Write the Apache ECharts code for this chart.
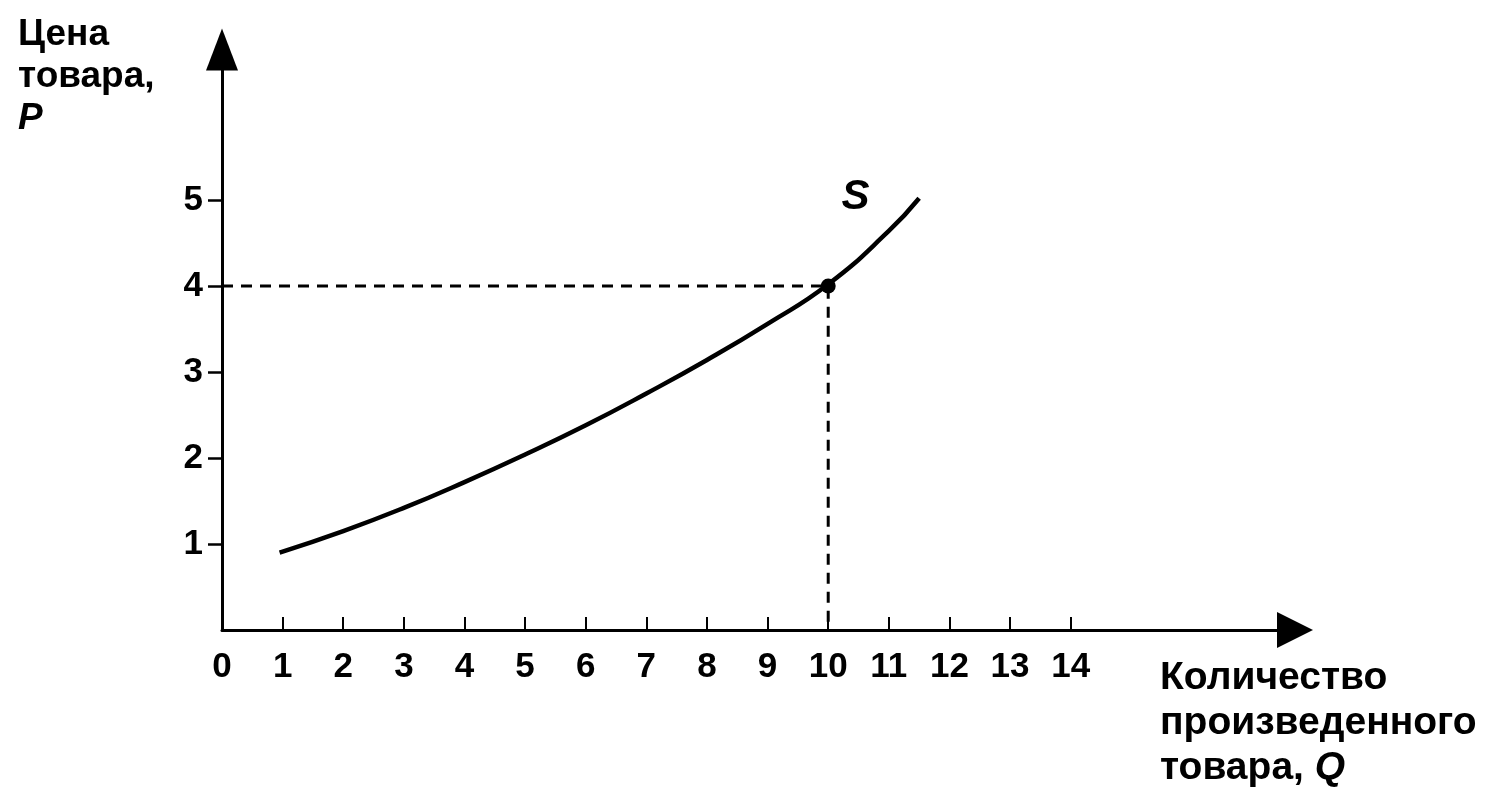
<!DOCTYPE html>
<html>
<head>
<meta charset="utf-8">
<script src="https://cdn.jsdelivr.net/npm/echarts@6/dist/echarts.min.js"></script>
<style>
  html, body { margin: 0; padding: 0; background: #fff; }
  #chart { width: 1501px; height: 808px; }
</style>
</head>
<body>
<div id="chart"></div>
<script>
// Supply curve S: price P for each quantity Q
const supplyQ = [0.95, 2, 3, 4, 5, 6, 7, 8, 9, 10, 11, 11.5];
const supplyP = [0.9, 1.15, 1.42, 1.72, 2.04, 2.38, 2.75, 3.14, 3.56, 4.02, 4.64, 5.02];

// Marked point on the curve and its guide lines to the axes
const markedQ = 10;
const markedP = 4;

// Tick values
const qTicks = [0, 1, 2, 3, 4, 5, 6, 7, 8, 9, 10, 11, 12, 13, 14];
const pTicks = [1, 2, 3, 4, 5];

// Where the curve's name sits
const curveName = 'S';
const curveNameAt = [10.45, 5.03];

const qMax = 17.7;
const pMax = 6.75;

const font = '"Liberation Sans", Arial, sans-serif';

const chart = echarts.init(document.getElementById('chart'));

chart.setOption({
  animation: false,
  backgroundColor: '#ffffff',
  grid: { left: 222, right: 206, top: 49.5, bottom: 178 },
  xAxis: {
    type: 'value',
    min: 0,
    max: qMax,
    interval: 1,
    splitLine: { show: false },
    axisLine: {
      lineStyle: { color: '#000', width: 3 },
      symbol: ['none', 'triangle'],
      symbolSize: [36, 36]
    },
    axisTick: {
      inside: true,
      length: 13,
      lineStyle: { color: '#000', width: 2 },
      customValues: qTicks
    },
    axisLabel: {
      margin: 20,
      color: '#000',
      fontFamily: font,
      fontWeight: 'bold',
      fontSize: 35,
      customValues: qTicks
    }
  },
  yAxis: {
    type: 'value',
    min: 0,
    max: pMax,
    interval: 1,
    splitLine: { show: false },
    axisLine: {
      lineStyle: { color: '#000', width: 3 },
      symbol: ['none', 'triangle'],
      symbolSize: [32, 42]
    },
    axisTick: {
      inside: false,
      length: 14,
      lineStyle: { color: '#000', width: 2.5 },
      customValues: pTicks
    },
    axisLabel: {
      margin: 19,
      color: '#000',
      fontFamily: font,
      fontWeight: 'bold',
      fontSize: 35,
      customValues: pTicks
    }
  },
  series: [
    {
      type: 'line',
      data: [[0, markedP], [markedQ, markedP], [markedQ, 0]],
      symbol: 'none',
      silent: true,
      lineStyle: { color: '#000', width: 3, type: [11, 8] }
    },
    {
      type: 'line',
      data: supplyQ.map((q, i) => [q, supplyP[i]]),
      smooth: 0.5,
      symbol: 'none',
      lineStyle: { color: '#000', width: 4.5 }
    },
    {
      type: 'scatter',
      data: [[markedQ, markedP]],
      symbolSize: 15,
      itemStyle: { color: '#000', opacity: 1 }
    },
    {
      type: 'scatter',
      data: [curveNameAt],
      symbolSize: 0,
      itemStyle: { color: '#000', opacity: 1 },
      label: {
        show: true,
        position: 'inside',
        formatter: curveName,
        color: '#000',
        opacity: 1,
        fontFamily: font,
        fontStyle: 'italic',
        fontWeight: 'bold',
        fontSize: 42
      }
    }
  ],
  graphic: [
    {
      type: 'text',
      left: 18,
      top: 14,
      style: {
        text: 'Цена\nтовара,\n{i|P}',
        fill: '#000',
        font: 'bold 37px ' + font,
        lineHeight: 42,
        rich: { i: { fontStyle: 'italic', fontWeight: 'bold', fontSize: 37, fontFamily: font, fill: '#000' } }
      }
    },
    {
      type: 'text',
      left: 1160,
      top: 656,
      style: {
        text: 'Количество\nпроизведенного\nтовара, {i|Q}',
        fill: '#000',
        font: 'bold 39px ' + font,
        lineHeight: 45,
        rich: { i: { fontStyle: 'italic', fontWeight: 'bold', fontSize: 39, fontFamily: font, fill: '#000' } }
      }
    }
  ]
});
</script>
</body>
</html>
